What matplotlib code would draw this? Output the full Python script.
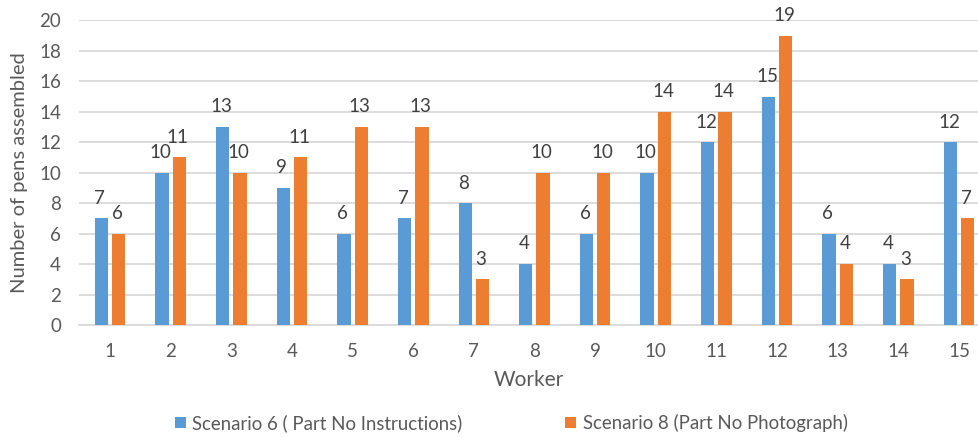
import matplotlib
matplotlib.use("Agg")
import matplotlib.pyplot as plt
import numpy as np

workers = ["1", "2", "3", "4", "5", "6", "7", "8", "9", "10", "11", "12", "13", "14", "15"]
scenario6 = [7, 10, 13, 9, 6, 7, 8, 4, 6, 10, 12, 15, 6, 4, 12]
scenario8 = [6, 11, 10, 11, 13, 13, 3, 10, 10, 14, 14, 19, 4, 3, 7]
series_names = ["Scenario 6 ( Part No Instructions)", "Scenario 8 (Part No Photograph)"]
yticks = [0, 2, 4, 6, 8, 10, 12, 14, 16, 18, 20]

BLUE = "#5B9BD5"
ORANGE = "#ED7D31"
TICK_GRAY = "#595959"
LABEL_DARK = "#404040"
GRID = "#D9D9D9"

plt.rcParams["font.family"] = ["Lato", "DejaVu Sans"]

W, H = 979, 437
fig = plt.figure(figsize=(W / 100, H / 100), dpi=100)
ax = fig.add_axes([79 / W, (H - 325) / H, 900 / W, 304.6 / H])

x = np.arange(1, len(workers) + 1)
bw = 0.22
off = 0.143
b1 = ax.bar(x - off, scenario6, bw, color=BLUE, label=series_names[0], zorder=3)
b2 = ax.bar(x + off, scenario8, bw, color=ORANGE, label=series_names[1], zorder=3)

for bars, vals in ((b1, scenario6), (b2, scenario8)):
    for rect, v in zip(bars, vals):
        ax.annotate(str(v), (rect.get_x() + rect.get_width() / 2, v),
                    xytext=(-1, 10.5), textcoords="offset points",
                    ha="center", va="baseline", fontsize=13.5, color=LABEL_DARK)

ax.set_xlim(0.489, 15.33)
ax.set_ylim(0, 20)
ax.set_yticks(yticks)
ax.set_xticks(x)
ax.set_xticklabels(workers)
ax.yaxis.grid(True, color=GRID, linewidth=1.3, zorder=0)
ax.set_axisbelow(True)
for s in ("top", "right", "left"):
    ax.spines[s].set_visible(False)
ax.spines["bottom"].set_color(GRID)
ax.spines["bottom"].set_linewidth(1.3)
ax.tick_params(axis="both", length=0, labelsize=13.5, labelcolor=TICK_GRAY)
ax.tick_params(axis="y", pad=13)
ax.tick_params(axis="x", pad=13)

ax.set_xlabel("Worker", fontsize=15, color=TICK_GRAY, labelpad=7)
ax.set_ylabel("Number of pens assembled", fontsize=14.5, color=TICK_GRAY, labelpad=8)

fig.legend(handles=[b1, b2], labels=series_names, loc="center",
           bbox_to_anchor=(0.522, (H - 423) / H), ncol=2, frameon=False,
           fontsize=13.4, labelcolor=TICK_GRAY, handlelength=0.6, handleheight=0.6,
           handletextpad=0.35, columnspacing=5.5)

fig.savefig("out.png", dpi=100)
